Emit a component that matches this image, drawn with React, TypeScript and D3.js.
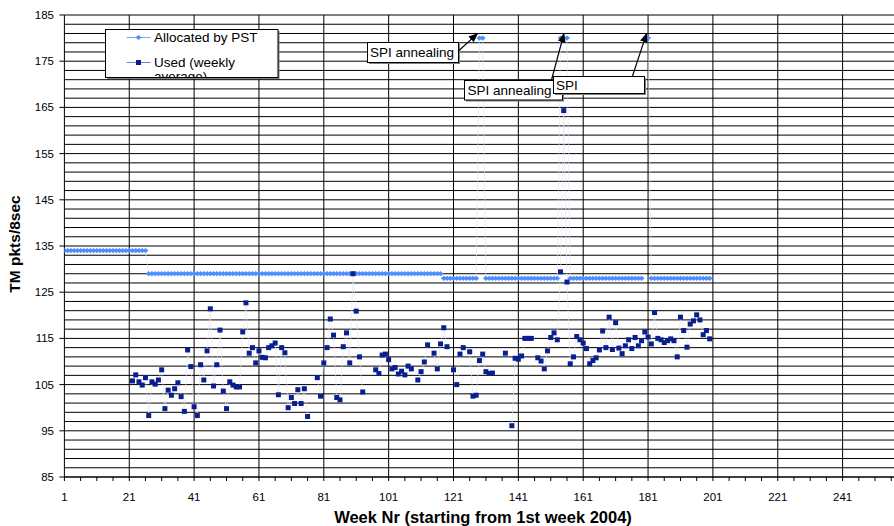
import React from 'react';
import * as d3 from 'd3';

// ---------- DATA ----------
const weeks: number[] = d3.range(1, 201);

// Allocated by PST (weeks 1..200)
const allocated: (number | null)[] = [
  // 1-26
  134, 134, 134, 134, 134, 134, 134, 134, 134, 134,
  134, 134, 134, 134, 134, 134, 134, 134, 134, 134,
  134, 134, 134, 134, 134, 134,
  // 27-117
  129, 129, 129, 129, 129, 129, 129, 129, 129, 129,
  129, 129, 129, 129, 129, 129, 129, 129, 129, 129,
  129, 129, 129, 129, 129, 129, 129, 129, 129, 129,
  129, 129, 129, 129, 129, 129, 129, 129, 129, 129,
  129, 129, 129, 129, 129, 129, 129, 129, 129, 129,
  129, 129, 129, 129, 129, 129, 129, 129, 129, 129,
  129, 129, 129, 129, 129, 129, 129, 129, 129, 129,
  129, 129, 129, 129, 129, 129, 129, 129, 129, 129,
  129, 129, 129, 129, 129, 129, 129, 129, 129, 129,
  129,
  // 118-128
  128, 128, 128, 128, 128, 128, 128, 128, 128, 128, 128,
  // 129-130
  180, 180,
  // 131-153
  128, 128, 128, 128, 128, 128, 128, 128, 128, 128,
  128, 128, 128, 128, 128, 128, 128, 128, 128, 128,
  128, 128, 128,
  // 154-156
  180, 180, 180,
  // 157-179
  128, 128, 128, 128, 128, 128, 128, 128, 128, 128,
  128, 128, 128, 128, 128, 128, 128, 128, 128, 128,
  128, 128, 128,
  // 180
  null,
  // 181
  180,
  // 182-200
  128, 128, 128, 128, 128, 128, 128, 128, 128, 128,
  128, 128, 128, 128, 128, 128, 128, 128, 128,
];

// Used (weekly average), weeks 22..200
const usedWeeks: number[] = d3.range(22, 201);
const usedValues: (number | null)[] = [
  // 22-31
  105.8, 107.1, 105.6, 104.9, 106.5, 98.3, 105.6, 105.1, 106.0, 108.2,
  // 32-41
  99.8, 103.8, 102.7, 104.1, 105.4, 102.4, 99.2, 112.5, 108.9, 100.2,
  // 42-51
  98.3, 109.3, 106.0, 112.3, 121.4, 104.7, 109.3, 116.8, 103.6, 99.8,
  // 52-61
  105.6, 104.9, 104.5, 104.5, 116.4, 122.7, 111.8, 113.0, 109.7, 112.3,
  // 62-71
  110.9, 110.8, 113.0, 113.4, 114.0, 102.8, 113.0, 111.9, 100.0, 102.2,
  // 72-81
  100.9, 103.9, 100.9, 104.1, 98.1, null, null, 106.5, 102.5, 109.7,
  // 82-91
  113.0, 119.2, 115.7, 102.2, 101.7, 113.2, 116.2, 109.7, 129.0, 120.9,
  // 92-101
  111.0, 103.4, null, null, null, 108.2, 107.4, 111.4, 111.6, 110.4,
  // 102-111
  108.4, 108.7, 107.3, 107.9, 107.1, 109.0, 108.4, null, 106.0, 107.8,
  // 112-121
  109.9, 113.6, null, 111.8, 108.4, 113.8, 117.3, 113.2, null, 108.2,
  // 122-131
  105.0, 111.6, 113.0, null, 112.1, 102.5, 102.7, 110.2, 111.6, 107.8,
  // 132-141
  107.4, 107.5, null, null, null, 111.8, null, 96.1, 110.7, 110.5,
  // 142-151
  111.2, 115.0, 115.0, 115.0, null, 110.8, 110.1, 108.4, 112.3, 115.2,
  // 152-161
  116.2, 114.7, 129.4, 164.3, 127.2, 109.5, 111.0, 115.4, 114.7, 114.0,
  // 162-171
  112.8, 109.5, 110.2, 110.8, 112.5, 116.6, 113.0, 119.6, 112.6, 118.4,
  // 172-181
  112.9, 111.7, 113.4, 114.7, 112.8, 115.2, 113.4, 114.5, 116.4, 115.3,
  // 182-191
  113.8, 120.6, 115.0, 114.7, 114.1, 114.5, 114.9, 114.5, 111.0, 119.6,
  // 192-200
  116.7, 113.1, 118.1, 118.8, 120.1, 119.0, 115.8, 116.7, 114.9,
];

const xTickLabels: number[] = [1, 21, 41, 61, 81, 101, 121, 141, 161, 181, 201, 221, 241];
const yTickLabels: number[] = [85, 95, 105, 115, 125, 135, 145, 155, 165, 175, 185];
const seriesNames: string[] = ['Allocated by PST', 'Used (weekly', 'average)'];
const xTitle = 'Week Nr (starting from 1st week 2004)';
const yTitle = 'TM pkts/8sec';

const annotationLabels: string[] = ['SPI annealing', 'SPI annealing', 'SPI'];
const annotationWeeks: number[] = [129, 154.6, 181];
const annotationValues: number[] = [180, 180, 180];

// ---------- LAYOUT ----------
const W = 894;
const H = 526;
const FONT = '"Liberation Sans", Arial, Helvetica, sans-serif';

const x = d3.scaleLinear().domain([1, 261]).range([64.4, 64.4 + 260 * 3.2425]);
const y = d3.scaleLinear().domain([85, 185]).range([477, 15]);

const ALLOC_COLOR = '#4D8EFF';
const USED_COLOR = '#0A1F8F';

// annotation box layout [x, y, w, h] and arrow start
const annBoxes = [
  { box: [367.5, 42.5, 91, 20], from: [459, 50.5], tdx: -2, tx: 370, ty: 57 },
  { box: [464.5, 80.5, 98, 19.5], from: [551.5, 80], tdx: 1.5, tx: 467.5, ty: 95 },
  { box: [553.5, 76.5, 91, 17], from: [632.5, 76], tdx: -1.5, tx: 556, ty: 89.5 },
];

const diamond = (cx: number, cy: number) =>
  `M${cx - 3},${cy}L${cx},${cy - 2.6}L${cx + 3},${cy}L${cx},${cy + 2.6}Z`;

export default function App() {
  const allocPts = weeks.map((w, i) => ({ w, v: allocated[i] }));
  const usedPts = usedWeeks.map((w, i) => ({ w, v: usedValues[i] }));

  const line = d3
    .line<{ w: number; v: number | null }>()
    .defined((d) => d.v !== null)
    .x((d) => x(d.w))
    .y((d) => y(d.v as number));

  const hGrid = d3.range(85, 186, 2);
  const minorX = d3.range(1, 262, 5);

  return (
    <svg
      width={W}
      height={H}
      style={{ position: 'absolute', left: 0, top: 0, fontFamily: FONT }}
    >
      <defs>
        <clipPath id="plotclip">
          <rect x={x(1)} y={0} width={W - x(1)} height={y(85) + 1} />
        </clipPath>
        <clipPath id="legclip">
          <rect x={105.5} y={29.5} width={172.5} height={48} />
        </clipPath>
        <marker id="arrow" viewBox="0 0 10 10" refX="9" refY="5" markerWidth="8" markerHeight="8" orient="auto">
          <path d="M0,1 L10,5 L0,9 Z" fill="#000" />
        </marker>
      </defs>
      <rect x={0} y={0} width={W} height={H} fill="#fff" />

      {/* horizontal grid */}
      {hGrid.map((v) => (
        <line key={'h' + v} x1={x(1)} x2={W} y1={y(v)} y2={y(v)} stroke="#000" strokeWidth={1} />
      ))}
      {/* vertical grid */}
      {xTickLabels.slice(1).map((w) => (
        <line key={'v' + w} x1={x(w)} x2={x(w)} y1={y(185)} y2={y(85)} stroke="#000" strokeWidth={1} />
      ))}

      {/* axes */}
      <line x1={x(1)} x2={x(1)} y1={y(185)} y2={y(85)} stroke="#000" strokeWidth={1} />
      <line x1={x(1)} x2={W} y1={y(85)} y2={y(85)} stroke="#000" strokeWidth={1} />
      {yTickLabels.map((v) => (
        <g key={'yt' + v}>
          <line x1={x(1) - 5} x2={x(1)} y1={y(v)} y2={y(v)} stroke="#000" />
          <text x={54} y={y(v) + 4} fontSize={11.5} textAnchor="end" fill="#000">
            {v}
          </text>
        </g>
      ))}
      {minorX.map((w) => (
        <line key={'xm' + w} x1={x(w)} x2={x(w)} y1={y(85)} y2={y(85) + 4} stroke="#000" />
      ))}
      {xTickLabels.map((w) => (
        <text key={'xt' + w} x={x(w)} y={500.5} fontSize={11.5} textAnchor="middle" fill="#000">
          {w}
        </text>
      ))}

      {/* axis titles */}
      <text x={483} y={523} fontSize={16.5} fontWeight="bold" textAnchor="middle" fill="#000">
        {xTitle}
      </text>
      <text
        transform={`translate(20,244) rotate(-90)`}
        fontSize={15.5}
        fontWeight="bold"
        textAnchor="middle"
        fill="#000"
      >
        {yTitle}
      </text>

      {/* series */}
      <g clipPath="url(#plotclip)">
        <path d={line(allocPts) || ''} fill="none" stroke="#DCE6FB" strokeWidth={0.6} />
        {allocPts
          .filter((d) => d.v !== null)
          .map((d) => (
            <path key={'a' + d.w} d={diamond(x(d.w), y(d.v as number))} fill={ALLOC_COLOR} />
          ))}
        <path d={line(usedPts) || ''} fill="none" stroke="#E3E3F3" strokeWidth={0.6} />
        {usedPts
          .filter((d) => d.v !== null)
          .map((d) => (
            <rect
              key={'u' + d.w}
              x={x(d.w) - 2.5}
              y={y(d.v as number) - 2.5}
              width={5}
              height={5}
              fill={USED_COLOR}
            />
          ))}
      </g>

      {/* legend */}
      <rect x={107} y={31} width={172.5} height={48} fill="#808080" />
      <rect x={105.5} y={29.5} width={172.5} height={48} fill="#fff" stroke="#000" strokeWidth={1} />
      <g clipPath="url(#legclip)">
        <line x1={126.5} x2={150.5} y1={37.5} y2={37.5} stroke="#7FA6F5" strokeWidth={1} />
        <path d={diamond(138.5, 37.5)} fill={ALLOC_COLOR} />
        <text x={154} y={42} fontSize={13.5} fill="#000">
          {seriesNames[0]}
        </text>
        <line x1={126.5} x2={150.5} y1={62.5} y2={62.5} stroke="#6F7FD8" strokeWidth={1} />
        <rect x={136} y={60} width={5} height={5} fill={USED_COLOR} />
        <text x={154} y={67} fontSize={13.5} fill="#000">
          {seriesNames[1]}
        </text>
        <text x={154} y={81} fontSize={13.5} fill="#000">
          {seriesNames[2]}
        </text>
      </g>

      {/* annotations */}
      {annBoxes.map((a, i) => {
        const [bx, by, bw, bh] = a.box;
        const tx = x(annotationWeeks[i]) + a.tdx;
        const ty = y(annotationValues[i]) - 4.5;
        return (
          <g key={'ann' + i}>
            <rect x={bx + 1.5} y={by + 1.5} width={bw} height={bh} fill="#808080" />
            <rect x={bx} y={by} width={bw} height={bh} fill="#fff" stroke="#000" strokeWidth={1} />
            <text x={a.tx} y={a.ty} fontSize={13.5} fill="#000">
              {annotationLabels[i]}
            </text>
            <line
              x1={a.from[0]}
              y1={a.from[1]}
              x2={tx}
              y2={ty}
              stroke="#000"
              strokeWidth={1.2}
              markerEnd="url(#arrow)"
            />
          </g>
        );
      })}
    </svg>
  );
}
